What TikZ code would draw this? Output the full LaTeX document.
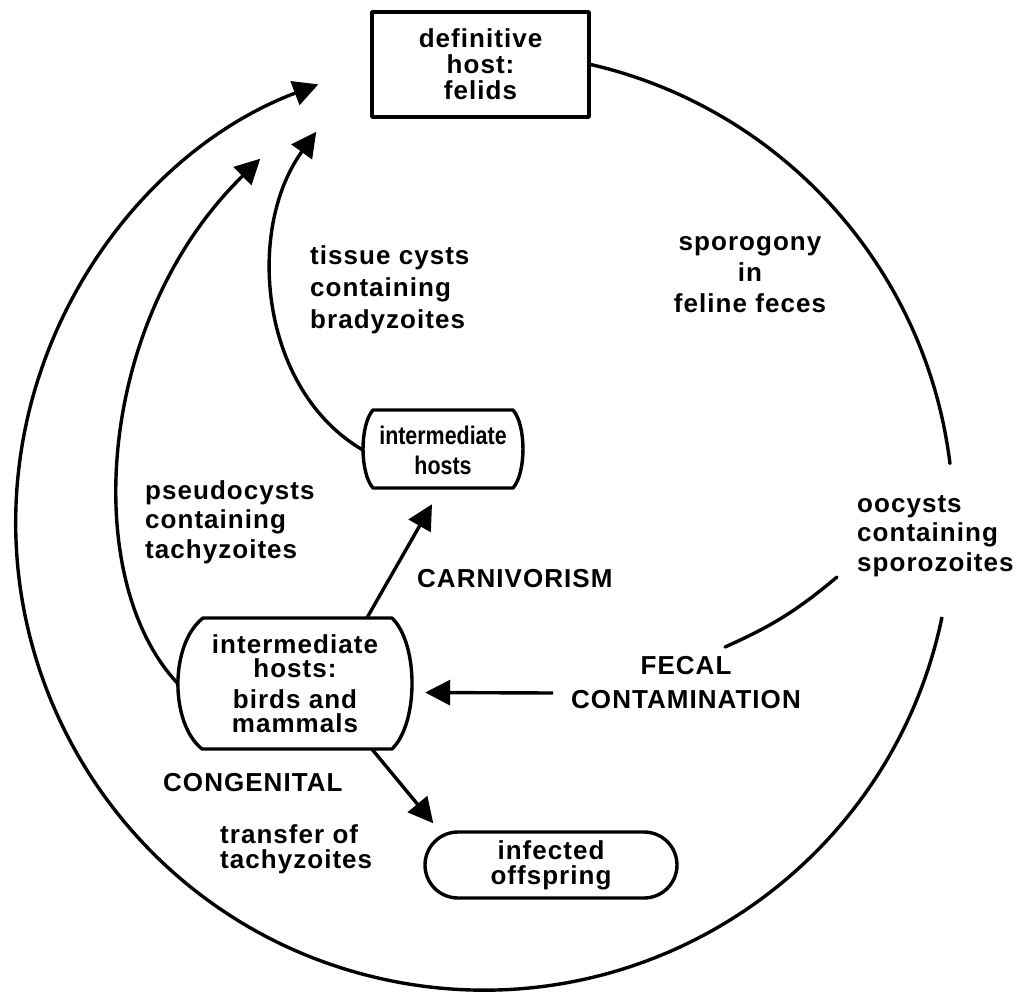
\documentclass[tikz,border=0pt]{standalone}
\usepackage{fontspec}
\setmainfont{Liberation Sans}[LetterSpace=4]
\newfontfamily\narrowlbl{Liberation Sans}[FakeStretch=0.84]
\usetikzlibrary{arrows.meta}
\begin{document}
\begin{tikzpicture}[x=1pt,y=-1pt,
  line/.style={line width=3.4pt, line cap=round},
  arr/.style={line width=3.4pt, -{Triangle[length=25pt,width=25pt]}},
  box/.style={line width=3.4pt, line join=round},
  lbl/.style={font=\bfseries\fontsize{26}{29.5}\selectfont, inner sep=0pt},
]
\useasboundingbox (0,0) rectangle (1023,996);

% --- hosts ---
\node[lbl, draw, box, align=center, minimum width=217pt, minimum height=105pt,
      font=\bfseries\fontsize{26}{26}\selectfont] (fh) at (480.5,64.5) {definitive\\host:\\felids};

\node[lbl, align=center, minimum width=160pt, minimum height=78pt,
      font=\narrowlbl\bfseries\fontsize{25.5}{30}\selectfont] (ih) at (443,450) {intermediate\\hosts};
\draw[box] (373,410) -- (513,410) .. controls (526.3,425) and (526.3,473) .. (513,488)
  -- (373,488) .. controls (359.7,473) and (359.7,425) .. cycle;

\node[lbl, align=center, minimum width=234pt, minimum height=131pt,
      font=\bfseries\fontsize{26}{24}\selectfont] (bh) at (295,683.5)
      {intermediate\\hosts:\\[7pt]birds and\\mammals};
\draw[box] (203,618) -- (392,618) .. controls (418.7,644) and (418.7,723) .. (392,749)
  -- (202,749) .. controls (169.7,723) and (169.7,644) .. cycle;

\node[lbl, draw, box, rounded corners=33pt, align=center, minimum width=252pt, minimum height=66pt,
      font=\bfseries\fontsize{26}{25}\selectfont] (io) at (551,865) {infected\\offspring};

% --- labels ---
\node[lbl, anchor=west, align=left, font=\bfseries\fontsize{26}{32}\selectfont] (tc) at (310,290)
  {tissue cysts\\containing\\bradyzoites};
\node[lbl, align=center, font=\bfseries\fontsize{26}{31}\selectfont] (sp) at (750,275)
  {sporogony\\in\\feline feces};
\node[lbl, anchor=west, align=left] (oc) at (857,536) {oocysts\\containing\\sporozoites};
\node[lbl, anchor=west, align=left] (ps) at (145,522) {pseudocysts\\containing\\tachyzoites};
\node[lbl, anchor=base west] (ca) at (417,587) {CARNIVORISM};
\node[lbl, align=center, font=\bfseries\fontsize{26}{34}\selectfont] (fe) at (686,683)
  {FECAL\\CONTAMINATION};
\node[lbl, anchor=base west] (cg) at (163,791) {CONGENITAL};
\node[lbl, anchor=west, align=left, font=\bfseries\fontsize{26}{25}\selectfont] (tt) at (220,849)
  {transfer of\\tachyzoites};

% --- outer cycle ---
\draw[line] (fh.east) arc[start angle=77, end angle=7, radius=468pt];
\coordinate (lowS) at (942,617);
\draw[arr] (lowS) arc[start angle=-11.7, end angle=-249.3, radius=468pt];

% --- fecal contamination ---
\coordinate (fs1) at (837,577);
\coordinate (fs2) at (725,647);
\draw[line] (fs1) to[bend left=8] (fs2);
\coordinate (fa) at (553,693);
\draw[arr] (fa) -- ([xshift=13pt,yshift=-9pt]bh.east);

% --- inner arrows ---
\draw[arr] (ih.west) .. controls (260,390) and (245,230) .. ([xshift=-54pt,yshift=-13pt]fh.south west);
\draw[arr] (bh.west) .. controls (80,580) and (95,320) .. ([xshift=-110pt,yshift=-40pt]fh.south west);
\draw[arr] ([xshift=72pt]bh.north) -- ([xshift=-11pt,yshift=-15pt]ih.south);
\draw[arr] ([xshift=77pt]bh.south) -- ([xshift=10pt,yshift=7pt]io.north west);
\end{tikzpicture}
\end{document}
